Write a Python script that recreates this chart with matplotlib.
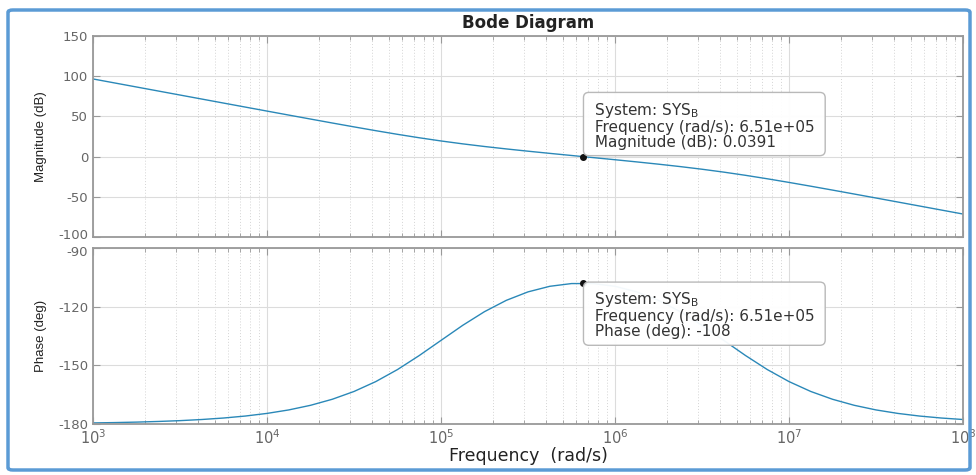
import numpy as np
import matplotlib.pyplot as plt
import matplotlib.transforms as mtransforms
from matplotlib.patches import FancyBboxPatch
from matplotlib.ticker import LogLocator, NullFormatter

plt.rcParams['font.family'] = ['DejaVu Sans']
plt.rcParams['axes.unicode_minus'] = False

# frequencies (rad/s), eighth-decade steps from 1e3 to 1e8
log_w = [3 + 0.125 * i for i in range(41)]
freq = [10 ** v for v in log_w]

# magnitude (dB)
mag_db = [96.53, 91.53, 86.53, 81.53, 76.53, 71.54, 66.54, 61.55, 56.57, 51.60,
          46.66, 41.75, 36.92, 32.20, 27.66, 23.38, 19.41, 15.80, 12.52, 9.51,
          6.69, 3.98, 1.34, -1.29, -3.93, -6.64, -9.46, -12.47, -15.75, -19.35,
          -23.32, -27.61, -32.15, -36.86, -41.69, -46.60, -51.54, -56.51, -61.49,
          -66.48, -71.47]

# phase (deg)
phase_deg = [-179.46, -179.28, -179.04, -178.71, -178.29, -177.71, -176.95, -175.94,
             -174.59, -172.81, -170.45, -167.36, -163.37, -158.32, -152.16, -144.99,
             -137.25, -129.53, -122.55, -116.78, -112.44, -109.59, -108.19, -108.19,
             -109.59, -112.44, -116.78, -122.55, -129.53, -137.25, -144.99, -152.16,
             -158.32, -163.37, -167.36, -170.45, -172.81, -174.59, -175.94, -176.95,
             -177.71]

# data tips
tip_freq = 6.51e5
tip_mag = 0.0391
tip_phase = -108

mag_ticks = [-100, -50, 0, 50, 100, 150]
phase_ticks = [-180, -150, -120, -90]
freq_ticks = [1e3, 1e4, 1e5, 1e6, 1e7, 1e8]

line_col = "#2a88b8"
axis_col = "#999999"
tick_col = "#666666"

fig = plt.figure(figsize=(9.76, 4.75), dpi=100)
ax1 = fig.add_axes([0.0953, 0.5011, 0.8914, 0.4232])
ax2 = fig.add_axes([0.0953, 0.1074, 0.8914, 0.3705])

ax1.plot(freq, mag_db, color=line_col, lw=1.0)
ax2.plot(freq, phase_deg, color=line_col, lw=1.0)

for ax in (ax1, ax2):
    ax.set_xscale("log")
    ax.set_xlim(1e3, 1e8)
    ax.set_xticks(freq_ticks)
    ax.xaxis.set_minor_locator(LogLocator(base=10, subs=np.arange(2, 10), numticks=20))
    ax.xaxis.set_minor_formatter(NullFormatter())
    ax.grid(True, which="major", color="#dcdcdc", lw=0.8)
    ax.grid(True, which="minor", axis="x", color="#d4d4d4", lw=0.7, ls=(0, (1, 2)))
    ax.set_axisbelow(True)
    ax.tick_params(which="both", direction="in", top=True, right=True,
                   colors=axis_col, labelcolor=tick_col, labelsize=9.5)
    ax.tick_params(which="major", length=5, width=0.8)
    ax.tick_params(which="minor", length=3, width=0.6)
    for s in ax.spines.values():
        s.set_color(axis_col)
        s.set_linewidth(1.3)

ax1.set_ylim(-100, 150)
ax1.set_yticks(mag_ticks)
ax1.tick_params(axis="x", labelbottom=False)
ax1.set_ylabel("Magnitude (dB)", fontsize=9.5, family="Liberation Sans", color="#222222", labelpad=8)
ax1.set_title("Bode Diagram", fontsize=12, fontweight="bold", color="#222222", pad=6)

ax2.set_ylim(-180, -90)
ax2.set_yticks(phase_ticks)
ax2.set_xticklabels([r"$10^{%d}$" % int(np.log10(v)) for v in freq_ticks], fontsize=10.5)
ax2.tick_params(axis="x", pad=3)
ax2.set_ylabel("Phase (deg)", fontsize=9.5, family="Liberation Sans", color="#222222", labelpad=8)
ax2.set_xlabel("Frequency  (rad/s)", fontsize=12.5, color="#222222", labelpad=0)

# the -100 and -90 labels sit close together; nudge them apart a little
up = mtransforms.ScaledTranslation(0, 2.5 / 72, fig.dpi_scale_trans)
down = mtransforms.ScaledTranslation(0, -2.5 / 72, fig.dpi_scale_trans)
lab_low = ax1.get_yticklabels()[0]
lab_low.set_transform(lab_low.get_transform() + up)
lab_top = ax2.get_yticklabels()[-1]
lab_top.set_transform(lab_top.get_transform() + down)

# data tip markers and boxes
ax1.plot([tip_freq], [tip_mag], "o", color="#111111", ms=4, zorder=5)
ax2.plot([tip_freq], [tip_phase], "o", color="#111111", ms=4, zorder=5)

box = dict(boxstyle="round,pad=0.4,rounding_size=0.35", fc="white", ec="#b5b5b5", lw=1.0, alpha=0.95)
ax1.annotate(" System: SYS$_\\mathregular{B}$\n Frequency (rad/s): 6.51e+05 \n Magnitude (dB): 0.0391",
             xy=(tip_freq, tip_mag), xytext=(7, 7), textcoords="offset pixels",
             ha="left", va="bottom", fontsize=11, color="#333333", linespacing=1.0,
             bbox=box, zorder=6)
ax2.annotate(" System: SYS$_\\mathregular{B}$\n Frequency (rad/s): 6.51e+05 \n Phase (deg): -108",
             xy=(tip_freq, tip_phase), xytext=(7, -7), textcoords="offset pixels",
             ha="left", va="top", fontsize=11, color="#333333", linespacing=1.0,
             bbox=box, zorder=6)

# blue frame round the whole figure
frame = FancyBboxPatch((8 / 976, 5 / 475), 962 / 976, 460 / 475,
                       boxstyle="round,pad=0,rounding_size=0.005",
                       transform=fig.transFigure, fill=False, ec="#5b9bd5", lw=2.5)
fig.patches.append(frame)

fig.savefig("out.png", dpi=100)
